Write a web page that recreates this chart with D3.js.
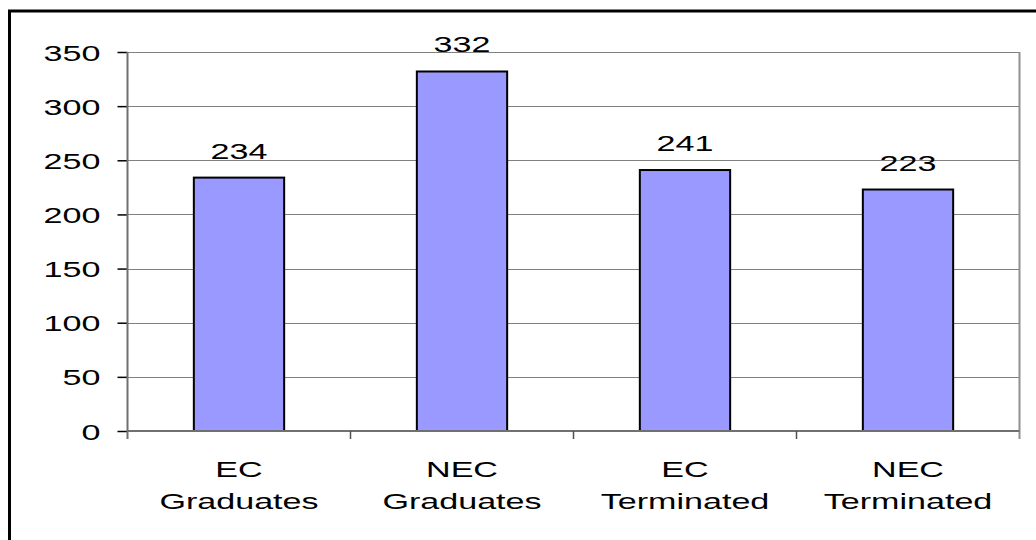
<!DOCTYPE html>
<html>
<head>
<meta charset="utf-8">
<script src="https://cdn.jsdelivr.net/npm/d3@7"></script>
<style>
  html, body { margin: 0; padding: 0; background: #fff; }
  svg { display: block; }
  text { font-family: "Liberation Sans", Arial, sans-serif; fill: #000; font-size: 22px; }
</style>
</head>
<body>
<div id="chart"></div>
<script>
// chart data
var categories = [["EC", "Graduates"], ["NEC", "Graduates"], ["EC", "Terminated"], ["NEC", "Terminated"]];
var values = [234, 332, 241, 223];
var yTicks = [0, 50, 100, 150, 200, 250, 300, 350];

var width = 1036, height = 540;
var plotLeft = 127.5, plotRight = 1019.5, plotTop = 52, plotBottom = 431;
var stretch = 1.55; // the original text is stretched wide

var svg = d3.select("#chart").append("svg")
	.attr("width", width).attr("height", height);

svg.append("rect").attr("width", width).attr("height", height).attr("fill", "#fff");

// outer frame, runs off the right and bottom edges
svg.append("rect")
	.attr("x", 9.5).attr("y", 11)
	.attr("width", 1100).attr("height", 600)
	.attr("fill", "none").attr("stroke", "#000").attr("stroke-width", 3);

var x = d3.scaleBand().domain(d3.range(categories.length)).range([plotLeft, plotRight]).paddingInner(0.595).paddingOuter(0.2975);
var xEdge = d3.scaleLinear().domain([0, categories.length]).range([plotLeft, plotRight]);
var y = d3.scaleLinear().domain([0, 350]).range([plotBottom, plotTop]);

function stretched(sel, px, py) {
	sel.attr("transform", function(d, i){
		return "translate(" + px(d, i) + "," + py(d, i) + ") scale(" + stretch + ",1)";
	});
}

// gridlines
svg.append("g").selectAll("line").data(yTicks.filter(function(d){ return d > 0; })).enter().append("line")
	.attr("x1", plotLeft).attr("x2", plotRight)
	.attr("y1", function(d){ return Math.round(y(d)) + 0.5; })
	.attr("y2", function(d){ return Math.round(y(d)) + 0.5; })
	.attr("stroke", "#808080").attr("stroke-width", 1);

// right border of the plot area
svg.append("line")
	.attr("x1", plotRight).attr("x2", plotRight).attr("y1", plotTop).attr("y2", plotBottom + 8)
	.attr("stroke", "#909090").attr("stroke-width", 2);

// bars
svg.append("g").selectAll("rect").data(values).enter().append("rect")
	.attr("x", function(d, i){ return x(i); })
	.attr("y", function(d){ return y(d); })
	.attr("width", x.bandwidth())
	.attr("height", function(d){ return plotBottom - y(d); })
	.attr("fill", "#9999FF").attr("stroke", "#000").attr("stroke-width", 2);

// value labels
svg.append("g").selectAll("text").data(values).enter().append("text")
	.attr("text-anchor", "middle")
	.text(function(d){ return d; })
	.call(stretched, function(d, i){ return x(i) + x.bandwidth() / 2; }, function(d){ return y(d) - 19; });

// y axis ticks and labels
var yAxis = svg.append("g").attr("transform", "translate(" + plotLeft + ",0)")
	.call(d3.axisLeft(y).tickValues(yTicks).tickSize(10).tickPadding(8));
yAxis.attr("font-size", null).attr("font-family", null);
yAxis.select(".domain").remove();
yAxis.selectAll("line").attr("stroke", "#000").attr("stroke-width", 1.5);
yAxis.selectAll("text").attr("fill", "#000").attr("dy", null).attr("x", null)
	.call(stretched, function(){ return -27; }, function(){ return 8; });
svg.append("line").attr("x1", plotLeft).attr("x2", plotLeft).attr("y1", plotTop).attr("y2", plotBottom + 8)
	.attr("stroke", "#707070").attr("stroke-width", 2);

// x axis line and category dividers
svg.append("line").attr("x1", plotLeft).attr("x2", plotRight).attr("y1", plotBottom).attr("y2", plotBottom)
	.attr("stroke", "#707070").attr("stroke-width", 2);
svg.append("g").selectAll("line").data(d3.range(1, categories.length)).enter().append("line")
	.attr("x1", function(d){ return xEdge(d); }).attr("x2", function(d){ return xEdge(d); })
	.attr("y1", plotBottom).attr("y2", plotBottom + 8)
	.attr("stroke", "#505050").attr("stroke-width", 1.5);

// category labels, two lines each
var cat = svg.append("g").selectAll("g").data(categories).enter().append("g");
cat.selectAll("text").data(function(d, i){ return d.map(function(s, j){ return {s: s, i: i, j: j}; }); }).enter().append("text")
	.attr("text-anchor", "middle")
	.text(function(d){ return d.s; })
	.call(stretched, function(d){ return x(d.i) + x.bandwidth() / 2; }, function(d){ return 477 + d.j * 32; });
</script>
</body>
</html>
